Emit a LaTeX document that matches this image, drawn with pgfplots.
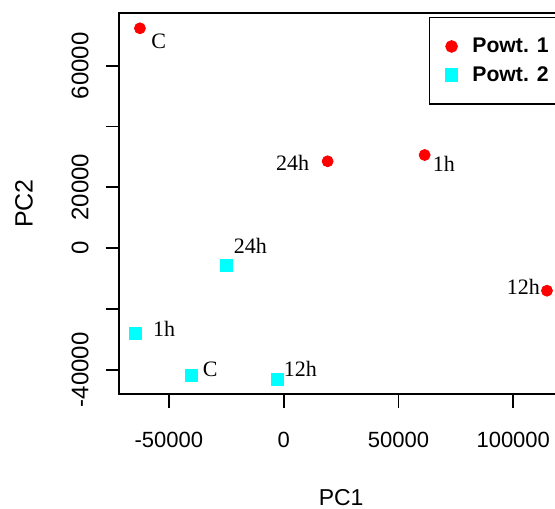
\documentclass[border=0pt]{standalone}
\usepackage{fontspec}
\setmainfont{Liberation Sans}
\newfontfamily\labelfont{Liberation Serif}
\usepackage{pgfplots}
\pgfplotsset{compat=1.18}

\definecolor{powtA}{RGB}{255,0,0}
\definecolor{powtB}{RGB}{0,255,255}

\begin{document}
\begin{tikzpicture}
\begin{axis}[
  at={(0pt,0pt)}, anchor=south west,
  scale only axis,
  width=222.15pt, height=190.8pt,
  xmin=-71700, xmax=121800,
  ymin=-48100, ymax=77430,
  scaled ticks=false,
  axis line style={line width=0.9pt},
  tick style={line width=0.9pt, black},
  tick align=outside,
  major tick length=6.65pt,
  xtick={-50000,0,50000,100000},
  xticklabels={-50000,0,50000,100000},
  ytick={-40000,-20000,0,20000,40000,60000},
  yticklabels={-40000,,0,20000,,60000},
  xtick pos=bottom, ytick pos=left,
  xticklabel style={anchor=center, inner sep=0pt, font=\fontsize{11}{13}\selectfont},
  yticklabel style={anchor=center, rotate=90, inner sep=0pt, font=\fontsize{12}{14}\selectfont},
  xticklabel shift=16.2pt,
  yticklabel shift=12.85pt,
  xlabel={PC1}, ylabel={PC2},
  every axis x label/.style={at={([yshift=-51.85pt]axis description cs:0.5,0)}, anchor=center, font=\fontsize{11.5}{13}\selectfont},
  every axis y label/.style={at={([xshift=-47.5pt]axis description cs:0,0.5)}, anchor=center, rotate=90, font=\fontsize{12.5}{14}\selectfont},
  legend style={
    at={(rel axis cs:0.697,0.9895)}, anchor=north west,
    draw=black, line width=0.8pt,
    inner xsep=0pt, inner ysep=7.3pt,
    font=\bfseries\fontsize{10.6}{13}\selectfont,
    nodes={inner sep=0pt, minimum height=14.35pt},
    column sep=0pt,
  },
  legend cell align=left,
  legend image code/.code={%
    \path (0pt,0pt) (20.65pt,0pt);
    \draw[#1, mark repeat=1] plot coordinates {(10.65pt,0pt)};
  },
]
\addplot[only marks, mark=*, mark size=2.75pt, draw=powtA, fill=powtA]
  coordinates {(-62590,72300) (19160,28550) (61410,30620) (114680,-14020)};
\addlegendentry{Powt. 1\hspace*{8pt}}
\addplot[only marks, mark=square*, mark size=3pt, draw=powtB, fill=powtB]
  coordinates {(-40200,-41850) (-64460,-28160) (-2920,-43070) (-25040,-5800)};
\addlegendentry{Powt. 2\hspace*{8pt}}

% sample labels
\begin{scope}[every node/.style={font=\labelfont\fontsize{11}{13}\selectfont, inner sep=0pt, anchor=center}]
\node[xshift=9.35pt, yshift=-6.35pt] at (axis cs:-62590,72300) {C};
\node[xshift=-17.5pt, yshift=-0.85pt] at (axis cs:19160,28550) {24h};
\node[xshift=9.65pt, yshift=-4.5pt] at (axis cs:61410,30620) {1h};
\node[xshift=-11.8pt, yshift=2pt] at (axis cs:114680,-14020) {12h};
\node[xshift=12.1pt, yshift=10.0pt] at (axis cs:-25040,-5800) {24h};
\node[xshift=14.25pt, yshift=2.35pt] at (axis cs:-64460,-28160) {1h};
\node[xshift=9.4pt, yshift=3.15pt] at (axis cs:-40200,-41850) {C};
\node[xshift=11.7pt, yshift=4.85pt] at (axis cs:-2920,-43070) {12h};
\end{scope}
\end{axis}
\pgfresetboundingbox
\path[use as bounding box] (-59.5pt,-56.85pt) rectangle (218pt,197.15pt);
\end{tikzpicture}
\end{document}
